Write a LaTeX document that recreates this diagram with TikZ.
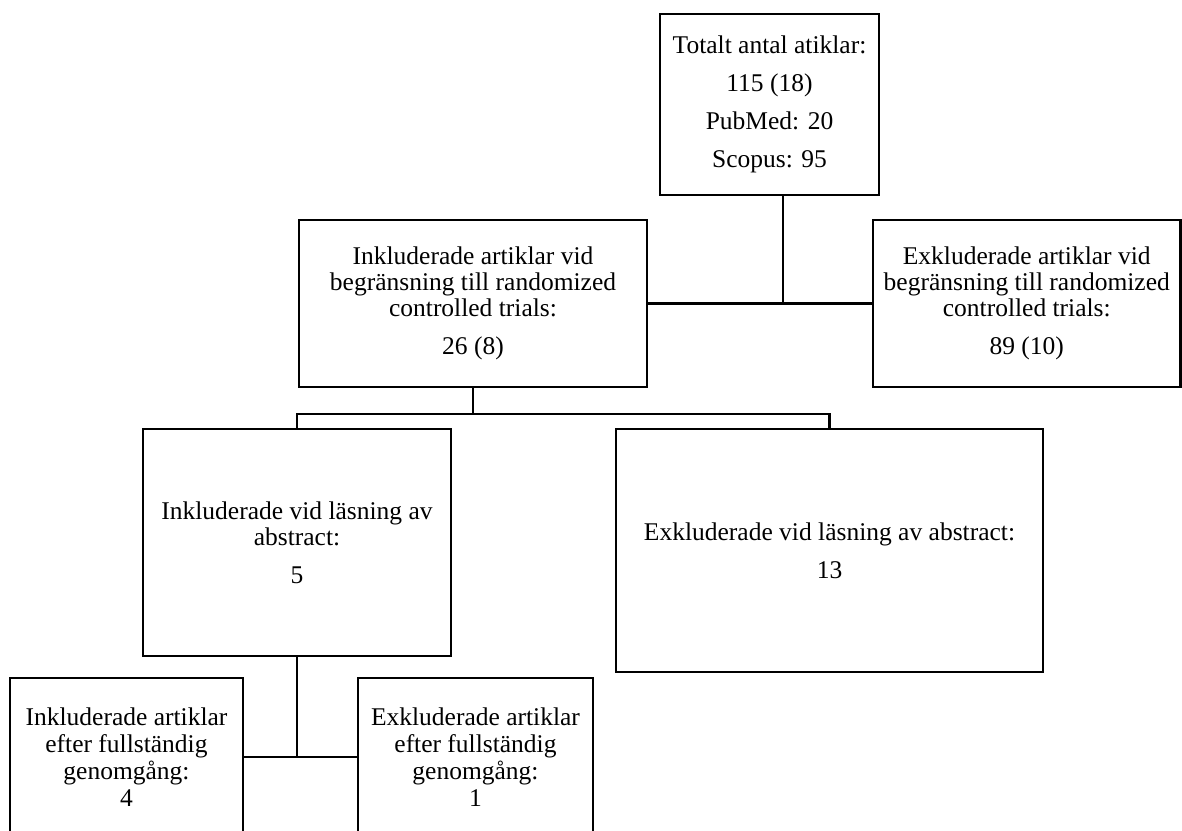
\documentclass[tikz,border=0pt]{standalone}
\usepackage{fontspec}
\setmainfont{Liberation Serif}
\begin{document}
\begin{tikzpicture}[x=1pt,y=-1pt,
  box/.style={draw=black, line width=2.6pt, rectangle, inner sep=0pt, align=center,
    font=\fontsize{25.5}{26}\selectfont},
  conn/.style={draw=black, line width=2.6pt}]
\useasboundingbox (0,0) rectangle (1182,830);
\node[box, minimum width=219pt, minimum height=181pt] (top) at (769.5,104.5)
  {Totalt antal atiklar:\\[12pt]115 (18)\\[12pt]PubMed: 20\\[12pt]Scopus: 95};
\node[box, minimum width=348pt, minimum height=167pt] (midL) at (473,303.5)
  {Inkluderade artiklar vid\\begränsning till randomized\\controlled trials:\\[12pt]26 (8)};
\node[box, minimum width=307.5pt, minimum height=167pt] (midR) at (1026.75,303.5)
  {Exkluderade artiklar vid\\begränsning till randomized\\controlled trials:\\[12pt]89 (10)};
\node[box, minimum width=308pt, minimum height=227pt] (inkA) at (297,542.5)
  {Inkluderade vid läsning av\\abstract:\\[12pt]5};
\node[box, minimum width=427pt, minimum height=243pt] (exkA) at (829.5,550.5)
  {Exkluderade vid läsning av abstract:\\[12pt]13};
\node[box, minimum width=233pt, minimum height=158pt, font=\fontsize{25.5}{27}\selectfont] (botL) at (126.5,757)
  {Inkluderade artiklar\\efter fullständig\\genomgång:\\4};
\node[box, minimum width=235pt, minimum height=158pt, font=\fontsize{25.5}{27}\selectfont] (botR) at (475.5,757)
  {Exkluderade artiklar\\efter fullständig\\genomgång:\\1};
\coordinate (j1) at (783,303.5);
\coordinate (j2) at (473,414);
\draw[conn] (top.south -| j1) -- (j1);
\draw[conn] (midL.east) -- (midR.west);
\draw[conn] (midL.south) -- (j2);
\draw[conn] (inkA.north) -- (inkA.north |- j2) -- (exkA.north |- j2) -- (exkA.north);
\draw[conn] (inkA.south) -- (inkA.south |- botL.east);
\draw[conn] (botL.east) -- (botR.west);
\end{tikzpicture}
\end{document}
